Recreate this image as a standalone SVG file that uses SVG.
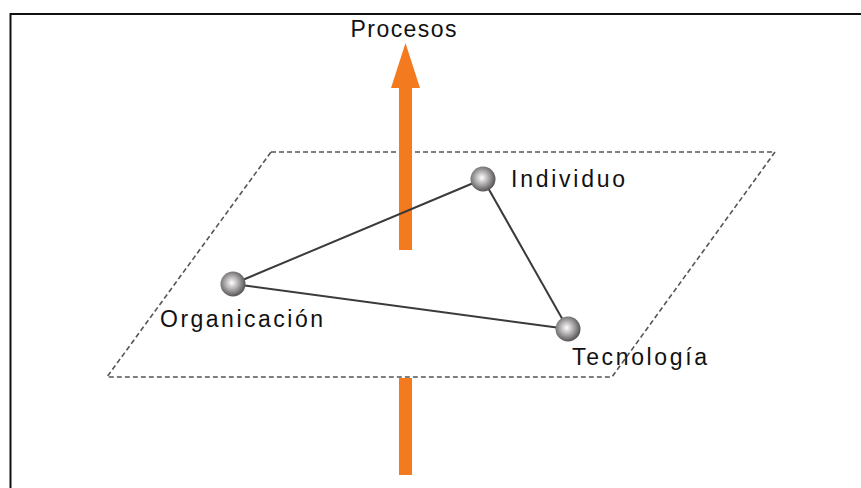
<svg xmlns="http://www.w3.org/2000/svg" width="861" height="488" viewBox="0 0 861 488">
<style>
.lbl{font-family:"Liberation Sans",Arial,sans-serif;font-size:23px;fill:#111}
.edge{stroke:#3a3a3a;stroke-width:2;fill:none}
.plane{stroke:#555;stroke-width:1.6;stroke-dasharray:5 3;fill:none}
.axis{fill:#F47A20}
</style>
<defs>
<radialGradient id="ball" cx="45%" cy="45%" r="55%">
<stop offset="0" stop-color="#ffffff"/>
<stop offset="0.45" stop-color="#b5b3b3"/>
<stop offset="1" stop-color="#575454"/>
</radialGradient>
</defs>
<rect width="861" height="488" fill="#fff"/>
<path d="M10.5 488 V14 H861" stroke="#111" stroke-width="2" fill="none"/>
<polygon class="plane" points="271,152 775,152 612,377 107,377"/>
<g id="axis">
<rect class="axis" x="399" y="86" width="13" height="164"/>
<polygon class="axis" points="405.5,43 391,88 420,88"/>
<rect class="axis" x="399" y="378" width="13" height="97"/>
<text class="lbl" x="350.5" y="37" textLength="106" lengthAdjust="spacing">Procesos</text>
</g>
<g id="connectors">
<line class="edge" x1="233" y1="284" x2="483" y2="179"/>
<line class="edge" x1="483" y1="179" x2="568" y2="329"/>
<line class="edge" x1="233" y1="284" x2="568" y2="329"/>
</g>
<g id="individuo">
<circle cx="483" cy="179" r="12.5" fill="url(#ball)"/>
<text class="lbl" x="511" y="187" textLength="114" lengthAdjust="spacing">Individuo</text>
</g>
<g id="organicacion">
<circle cx="233" cy="284" r="12.5" fill="url(#ball)"/>
<text class="lbl" x="160" y="327" textLength="163" lengthAdjust="spacing">Organicación</text>
</g>
<g id="tecnologia">
<circle cx="568" cy="329" r="12.5" fill="url(#ball)"/>
<text class="lbl" x="572" y="365" textLength="135" lengthAdjust="spacing">Tecnología</text>
</g>
</svg>
